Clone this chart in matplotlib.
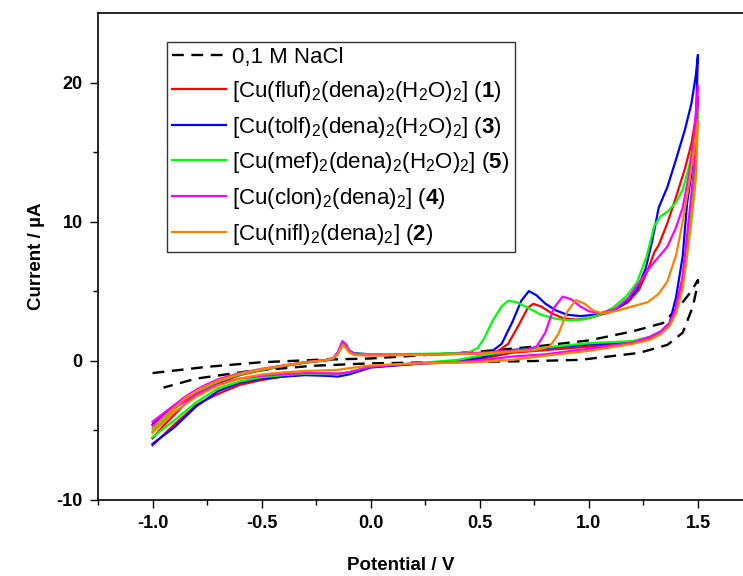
import matplotlib
matplotlib.use("Agg")
import matplotlib.pyplot as plt
import numpy as np

plt.rcParams['font.family'] = ['Liberation Sans', 'DejaVu Sans']
plt.rcParams['mathtext.fontset'] = 'custom'
plt.rcParams['mathtext.rm'] = 'Liberation Sans'
plt.rcParams['mathtext.it'] = 'Liberation Sans:italic'
plt.rcParams['mathtext.bf'] = 'Liberation Sans:bold'
plt.rcParams['axes.unicode_minus'] = False

# ---------------- data (potential / V, current / uA) ----------------
# 0.1 M NaCl blank
nacl_fwd_x = [-1.0, -0.75, -0.5, -0.25, 0.0, 0.25, 0.5, 0.75, 1.0, 1.2, 1.34, 1.42, 1.47, 1.5]
nacl_fwd_y = [-0.9, -0.45, -0.12, 0.05, 0.15, 0.4, 0.65, 1.0, 1.45, 2.1, 2.7, 4.0, 5.0, 5.8]
nacl_rev_x = [1.5, 1.477, 1.43, 1.36, 1.23, 0.96, 0.7, 0.4, 0.0, -0.27, -0.57, -0.8, -0.95]
nacl_rev_y = [5.6, 3.9, 2.0, 1.13, 0.55, 0.05, -0.05, -0.1, -0.2, -0.38, -0.79, -1.3, -1.95]

# common cathodic-region potentials for the forward scans
fwd_x_low = [-1.0, -0.95, -0.9, -0.85, -0.8, -0.75, -0.7, -0.6, -0.5, -0.4, -0.3, -0.2,
             -0.17, -0.15, -0.13, -0.115, -0.1, -0.08, -0.05, 0.0, 0.1, 0.2, 0.3, 0.4]
rev_x = [1.5, 1.49, 1.47, 1.45, 1.43, 1.40, 1.37, 1.33, 1.28, 1.2, 1.0, 0.8, 0.65, 0.5,
         0.4, 0.2, 0.0, -0.1, -0.15, -0.2, -0.3, -0.4, -0.5, -0.6, -0.7, -0.8, -0.9, -1.0]

# (1) fluf - red
red_fwd_low = [-5.6, -4.7, -3.9, -3.1, -2.5, -2.05, -1.65, -1.05, -0.7, -0.4, -0.15, 0.02,
               0.15, 0.5, 1.1, 1.0, 0.7, 0.5, 0.45, 0.4, 0.4, 0.42, 0.45, 0.5]
red_fwd_hx = [0.5, 0.58, 0.63, 0.68, 0.72, 0.745, 0.78, 0.83, 0.88, 0.94, 1.0, 1.1, 1.18, 1.23,
              1.27, 1.30, 1.32, 1.36, 1.40, 1.44, 1.47, 1.49, 1.5]
red_fwd_hy = [0.55, 0.65, 1.2, 2.6, 3.8, 4.08, 3.9, 3.4, 3.05, 2.95, 3.05, 3.5, 4.2, 5.1,
              6.5, 7.8, 8.3, 9.9, 11.8, 13.8, 15.6, 17.5, 19.0]
red_rev_y = [19.0, 15.0, 11.5, 8.5, 6.0, 3.8, 2.6, 2.0, 1.6, 1.3, 1.0, 0.75, 0.57, 0.1,
             -0.1, -0.25, -0.45, -0.85, -0.95, -0.95, -1.0, -1.15, -1.4, -1.75, -2.4, -3.2, -4.6, -6.1]

# (3) tolf - blue
blue_fwd_low = [-4.6, -3.9, -3.3, -2.7, -2.2, -1.8, -1.45, -0.95, -0.65, -0.38, -0.13, 0.04,
                0.2, 0.6, 1.3, 1.15, 0.75, 0.55, 0.5, 0.45, 0.42, 0.42, 0.45, 0.48]
blue_fwd_hx = [0.5, 0.55, 0.60, 0.65, 0.69, 0.725, 0.76, 0.80, 0.85, 0.90, 0.96, 1.03, 1.11,
               1.17, 1.22, 1.26, 1.29, 1.32, 1.36, 1.40, 1.44, 1.47, 1.49, 1.5]
blue_fwd_hy = [0.52, 0.6, 1.2, 2.8, 4.3, 5.0, 4.7, 4.1, 3.6, 3.3, 3.2, 3.3, 3.6,
               4.2, 5.1, 6.6, 8.6, 11.0, 12.5, 14.5, 16.6, 18.5, 20.5, 22.0]
blue_rev_y = [22.0, 17.0, 13.5, 11.3, 7.5, 4.6, 2.7, 2.1, 1.7, 1.35, 1.15, 0.9, 0.77, 0.2,
              -0.05, -0.25, -0.5, -1.0, -1.15, -1.1, -1.05, -1.15, -1.3, -1.6, -2.2, -3.3, -4.8, -6.0]

# (5) mef - green
green_fwd_low = [-5.1, -4.3, -3.5, -2.8, -2.3, -1.9, -1.5, -1.0, -0.67, -0.38, -0.13, 0.04,
                 0.18, 0.55, 1.2, 1.05, 0.7, 0.52, 0.48, 0.45, 0.45, 0.48, 0.5, 0.55]
green_fwd_hx = [0.45, 0.49, 0.52, 0.56, 0.60, 0.63, 0.67, 0.72, 0.78, 0.85, 0.90, 0.97, 1.05,
                1.11, 1.17, 1.22, 1.265, 1.30, 1.33, 1.36, 1.40, 1.43, 1.46, 1.48, 1.5]
green_fwd_hy = [0.6, 0.9, 1.6, 2.9, 3.9, 4.3, 4.2, 3.8, 3.3, 3.0, 2.9, 2.95, 3.3,
                3.8, 4.6, 5.6, 7.5, 9.7, 10.4, 10.7, 11.4, 12.3, 14.0, 15.8, 17.8]
green_rev_y = [17.8, 14.0, 11.0, 8.0, 5.5, 3.6, 2.7, 2.1, 1.7, 1.4, 1.25, 0.95, 0.7, 0.35,
               0.05, -0.2, -0.4, -0.85, -1.0, -0.98, -0.95, -1.05, -1.2, -1.5, -2.0, -3.0, -4.3, -5.5]

# (4) clon - magenta
pink_fwd_low = [-4.4, -3.8, -3.2, -2.6, -2.1, -1.7, -1.35, -0.9, -0.6, -0.35, -0.12, 0.05,
                0.2, 0.6, 1.4, 1.2, 0.75, 0.5, 0.45, 0.4, 0.4, 0.42, 0.45, 0.5]
pink_fwd_hx = [0.5, 0.70, 0.76, 0.80, 0.84, 0.88, 0.92, 0.96, 1.0, 1.05, 1.12, 1.18, 1.23,
               1.27, 1.30, 1.36, 1.40, 1.43, 1.46, 1.48, 1.5]
pink_fwd_hy = [0.55, 0.75, 1.0, 2.0, 3.8, 4.6, 4.4, 3.9, 3.55, 3.4, 3.7, 4.5, 5.6,
               6.5, 7.1, 8.2, 9.6, 11.0, 13.5, 15.8, 19.8]
pink_rev_y = [19.8, 15.0, 12.0, 9.0, 6.0, 3.8, 2.7, 2.1, 1.7, 1.3, 0.85, 0.45, 0.29, 0.0,
              -0.1, -0.2, -0.45, -0.85, -0.95, -0.92, -0.9, -0.98, -1.1, -1.3, -1.7, -2.4, -3.4, -4.7]

# (2) nifl - orange
orange_fwd_low = [-4.9, -4.1, -3.4, -2.7, -2.2, -1.8, -1.45, -0.95, -0.62, -0.36, -0.12, 0.04,
                  0.18, 0.5, 1.1, 0.95, 0.6, 0.42, 0.38, 0.36, 0.38, 0.4, 0.43, 0.47]
orange_fwd_hx = [0.5, 0.75, 0.82, 0.86, 0.90, 0.94, 0.98, 1.02, 1.06, 1.12, 1.20, 1.27, 1.32,
                 1.36, 1.40, 1.43, 1.46, 1.48, 1.5]
orange_fwd_hy = [0.5, 0.75, 1.0, 1.9, 3.5, 4.35, 4.1, 3.6, 3.4, 3.55, 3.9, 4.2, 4.8,
                 5.7, 7.6, 10.0, 12.8, 15.0, 17.3]
orange_rev_y = [17.3, 13.0, 10.0, 7.5, 5.2, 3.4, 2.5, 1.9, 1.5, 1.2, 0.7, 0.35, 0.05, -0.1,
                -0.15, -0.22, -0.35, -0.55, -0.67, -0.7, -0.75, -0.85, -1.0, -1.3, -1.8, -2.6, -3.7, -5.2]

labels = [
    '0,1 M NaCl',
    r'[Cu(fluf)$_2$(dena)$_2$(H$_2$O)$_2$] ($\mathbf{1}$)',
    r'[Cu(tolf)$_2$(dena)$_2$(H$_2$O)$_2$] ($\mathbf{3}$)',
    r'[Cu(mef)$_2$(dena)$_2$(H$_2$O)$_2$] ($\mathbf{5}$)',
    r'[Cu(clon)$_2$(dena)$_2$] ($\mathbf{4}$)',
    r'[Cu(nifl)$_2$(dena)$_2$] ($\mathbf{2}$)',
]
colors = ['#FF0000', '#0000FF', '#00FF00', '#FF00FF', '#FF8000']

series = [
    (red_fwd_low, red_fwd_hx, red_fwd_hy, red_rev_y),
    (blue_fwd_low, blue_fwd_hx, blue_fwd_hy, blue_rev_y),
    (green_fwd_low, green_fwd_hx, green_fwd_hy, green_rev_y),
    (pink_fwd_low, pink_fwd_hx, pink_fwd_hy, pink_rev_y),
    (orange_fwd_low, orange_fwd_hx, orange_fwd_hy, orange_rev_y),
]

fig = plt.figure(figsize=(7.43, 5.76), dpi=100)
ax = fig.add_axes([98 / 743, 1 - 499.5 / 576, 654.5 / 743, (499.5 - 13.2) / 576])

ax.plot(nacl_fwd_x + nacl_rev_x, nacl_fwd_y + nacl_rev_y, color='black', lw=1.7,
        ls=(0, (5, 3.2)), label=labels[0])

for (flow, fhx, fhy, ry), col, lab in zip(series, colors, labels[1:]):
    xs = list(fwd_x_low) + list(fhx) + list(rev_x)
    ys = list(flow) + list(fhy) + list(ry)
    ax.plot(xs, ys, color=col, lw=1.6, label=lab, solid_joinstyle='round')

ax.set_xlim(-1.25, 1.75)
ax.set_ylim(-10, 25)
ax.set_xticks([-1.0, -0.5, 0.0, 0.5, 1.0, 1.5])
ax.set_xticklabels(['-1.0', '-0.5', '0.0', '0.5', '1.0', '1.5'])
ax.set_xticks(np.arange(-1.25, 1.76, 0.25), minor=True)
ax.set_yticks([-10, 0, 10, 20])
ax.set_yticks([-5, 5, 15], minor=True)
ax.tick_params(which='major', direction='out', length=6, width=1.0, labelsize=13, pad=5)
ax.tick_params(which='minor', direction='out', length=3.5, width=1.0)
for lab in ax.get_xticklabels() + ax.get_yticklabels():
    lab.set_fontweight('bold')
for s in ['left', 'bottom', 'top']:
    ax.spines[s].set_linewidth(1.2)
ax.spines['right'].set_visible(False)

ax.set_xlabel('Potential / V', fontsize=13.5, fontweight='bold')
ax.xaxis.set_label_coords((401 - 98) / 654.5, -(565 - 499.5) / 486.3, transform=ax.transAxes)
ax.xaxis.label.set_va('center')
ax.set_ylabel('Current / µA', fontsize=13.5, fontweight='bold', labelpad=8)

leg = ax.legend(loc='upper left', bbox_to_anchor=(166.7 / 743, 1 - 41.7 / 576),
                bbox_transform=fig.transFigure, fontsize=16, frameon=True, fancybox=False,
                edgecolor='black', borderaxespad=0, borderpad=0.25, handlelength=2.4,
                handletextpad=0.3, labelspacing=0.48)
leg.get_frame().set_linewidth(1.0)

fig.savefig('out.png', dpi=100)
